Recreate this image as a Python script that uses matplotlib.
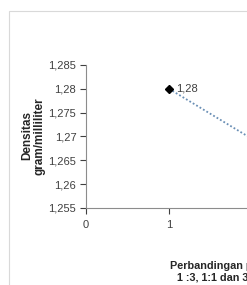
import numpy as np
import matplotlib.pyplot as plt
from matplotlib.patches import Rectangle
from matplotlib.ticker import FuncFormatter

# data
x_pos = [1, 2, 3]
density = [1.28, 1.2695, 1.259]
y_ticks = [1.255, 1.26, 1.265, 1.27, 1.275, 1.28, 1.285]
x_ticks = [0, 1, 2, 3, 4]

W, H = 247, 285
fig = plt.figure(figsize=(W/100, H/100), dpi=100)
plt.rcParams['font.family'] = ['Liberation Sans', 'DejaVu Sans']

# chart area frame
fig.patches.append(Rectangle((9/W, -0.1), 1.2, 1.1 - 11/H, transform=fig.transFigure,
                             fill=False, edgecolor='#d9d9d9', linewidth=0.8))

ax = fig.add_axes([86/W, 1-208/H, 83*4/W, (208-65)/H])
ax.plot(x_pos, density, color='#6a8fb5', linestyle=(0, (1, 1.2)), linewidth=1.3)
ax.plot(x_pos[:1], density[:1], marker='D', color='black', markersize=4.5, linestyle='none')
ax.annotate('1,28', (x_pos[0], density[0]), xytext=(5, 0), textcoords='offset points',
            fontsize=8, color='#404040', va='center')

ax.set_xlim(0, 4)
ax.set_ylim(1.255, 1.285)
ax.set_yticks(y_ticks)
ax.set_xticks(x_ticks)
ax.yaxis.set_major_formatter(FuncFormatter(lambda v, p: ('%g' % round(v, 3)).replace('.', ',')))
ax.tick_params(labelsize=8, colors='#404040', length=4, width=0.8, pad=3)
ax.tick_params(axis='x', pad=5)
for s in ['top', 'right']:
    ax.spines[s].set_visible(False)
for s in ['left', 'bottom']:
    ax.spines[s].set_color('#8c8c8c')
    ax.spines[s].set_linewidth(0.8)

fig.text(33/W, 1-136/H, 'Densitas\ngram/milliliter', rotation=90, ha='center', va='center',
         fontsize=8.5, fontweight='bold', color='#262626', linespacing=1.0)
fig.text(170/W, 1-266/H, 'Perbandingan pelarut', ha='left', va='center',
         fontsize=7.8, fontweight='bold', color='#262626')
fig.text(177/W, 1-277/H, '1 :3, 1:1 dan 3:1', ha='left', va='center',
         fontsize=7.8, fontweight='bold', color='#262626')

fig.savefig('out.png', dpi=100)
